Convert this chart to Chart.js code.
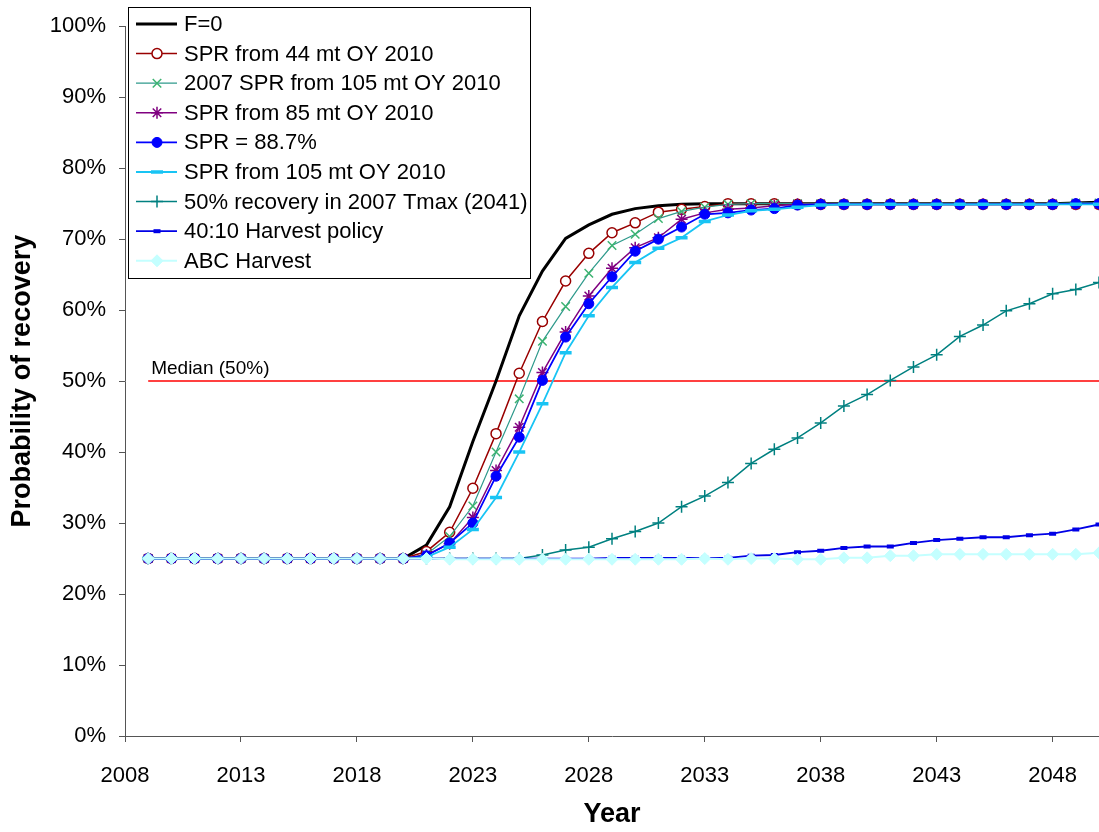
<!DOCTYPE html>
<html>
<head>
<meta charset="utf-8">
<title>Probability of recovery</title>
<script src="https://cdn.jsdelivr.net/npm/chart.js@4.4.1/dist/chart.umd.min.js"></script>
<style>
  html, body { margin: 0; padding: 0; background: #fff; }
  canvas { display: block; }
</style>
</head>
<body>
<canvas id="recovery" width="1099" height="832"></canvas>
<script>
// years on the x axis (2009 - 2050)
const years = [2009, 2010, 2011, 2012, 2013, 2014, 2015, 2016, 2017, 2018, 2019, 2020,
  2021, 2022, 2023, 2024, 2025, 2026, 2027, 2028, 2029, 2030,
  2031, 2032, 2033, 2034, 2035, 2036, 2037, 2038, 2039, 2040,
  2041, 2042, 2043, 2044, 2045, 2046, 2047, 2048, 2049, 2050]
const xTicks = [2008, 2013, 2018, 2023, 2028, 2033, 2038, 2043, 2048]
const yTicks = [0, 10, 20, 30, 40, 50, 60, 70, 80, 90, 100]

// probability of recovery, %
const fZero = [25, 25, 25, 25, 25, 25, 25, 25, 25, 25, 25, 25,
  26.9, 32.3, 41.5, 50.0, 59.2, 65.5, 70.1, 72.0, 73.5, 74.3,
  74.7, 74.9, 75.0, 75.0, 75.0, 75.0, 75.0, 75.0, 75.0, 75.0,
  75.0, 75.0, 75.0, 75.0, 75.0, 75.0, 75.0, 75.0, 75.1, 75.2]
const spr44 = [25, 25, 25, 25, 25, 25, 25, 25, 25, 25, 25, 25,
  26.0, 28.7, 34.9, 42.6, 51.1, 58.4, 64.1, 68.0, 70.9, 72.3,
  73.8, 74.2, 74.6, 75.0, 75.0, 75.0, 74.9, 74.9, 74.9, 74.9,
  74.9, 74.9, 74.9, 74.9, 74.9, 74.9, 74.9, 74.9, 74.9, 74.9]
const spr2007 = [25, 25, 25, 25, 25, 25, 25, 25, 25, 25, 25, 25,
  25.6, 28.1, 32.4, 40.0, 47.5, 55.6, 60.5, 65.2, 69.1, 70.7,
  72.9, 73.9, 74.5, 74.9, 75.0, 75.0, 75.0, 75.0, 75.0, 75.0,
  75.0, 75.0, 75.0, 75.0, 75.0, 75.0, 75.0, 75.0, 75.1, 75.1]
const spr85 = [25, 25, 25, 25, 25, 25, 25, 25, 25, 25, 25, 25,
  25.5, 27.1, 30.8, 37.4, 43.5, 51.2, 56.9, 62.0, 65.9, 68.8,
  70.2, 72.8, 73.7, 74.2, 74.4, 74.7, 74.9, 74.9, 74.9, 74.9,
  74.9, 74.9, 74.9, 74.9, 74.9, 74.9, 74.9, 74.9, 74.9, 74.9]
const spr887 = [25, 25, 25, 25, 25, 25, 25, 25, 25, 25, 25, 25,
  25.4, 27.2, 30.0, 36.6, 42.1, 50.1, 56.2, 60.9, 64.7, 68.3,
  70.0, 71.7, 73.5, 73.7, 74.1, 74.3, 74.8, 74.9, 74.9, 74.9,
  74.9, 74.9, 74.9, 74.9, 74.9, 74.9, 74.9, 74.9, 75.0, 75.0]
const spr105 = [25, 25, 25, 25, 25, 25, 25, 25, 25, 25, 25, 25,
  25.2, 26.6, 29.1, 33.6, 40.0, 46.8, 54.0, 59.2, 63.2, 66.7,
  68.7, 70.2, 72.5, 73.4, 74.0, 74.2, 74.5, 74.8, 74.9, 74.9,
  74.9, 74.9, 74.9, 74.9, 74.9, 74.9, 74.9, 74.9, 74.9, 74.9]
const tmax2041 = [25, 25, 25, 25, 25, 25, 25, 25, 25, 25, 25, 25,
  25.0, 25.0, 25.0, 25.0, 25.0, 25.5, 26.2, 26.6, 27.8, 28.8,
  30.0, 32.3, 33.8, 35.7, 38.4, 40.4, 42.0, 44.1, 46.5, 48.1,
  50.1, 52.0, 53.7, 56.3, 57.9, 59.9, 60.9, 62.3, 62.9, 63.9]
const harvest4010 = [25, 25, 25, 25, 25, 25, 25, 25, 25, 25, 25, 25,
  25.0, 25.0, 25.0, 25.0, 25.0, 25.0, 25.0, 25.0, 25.1, 25.1,
  25.1, 25.1, 25.1, 25.1, 25.4, 25.5, 25.9, 26.1, 26.5, 26.7,
  26.7, 27.2, 27.6, 27.8, 28.0, 28.0, 28.3, 28.5, 29.1, 29.8]
const abcHarvest = [25, 25, 25, 25, 25, 25, 25, 25, 25, 25, 25, 25,
  25.0, 24.9, 24.9, 24.9, 24.9, 24.9, 24.9, 24.9, 24.9, 24.9,
  24.9, 24.9, 25.0, 24.9, 25.0, 25.0, 24.9, 24.9, 25.1, 25.1,
  25.4, 25.4, 25.6, 25.6, 25.6, 25.6, 25.6, 25.6, 25.6, 25.8]
const median = [50, 50, 50, 50, 50, 50, 50, 50, 50, 50, 50, 50,
  50, 50, 50, 50, 50, 50, 50, 50, 50, 50,
  50, 50, 50, 50, 50, 50, 50, 50, 50, 50,
  50, 50, 50, 50, 50, 50, 50, 50, 50, 50]

const FONT = 'Liberation Sans, Arial, sans-serif'

function pts(arr) {
  return years.map((x, i) => ({ x: x, y: arr[i] }))
}

function series(label, arr, line, width, style, radius, fill, border, pw) {
  return {
    label: label,
    data: pts(arr),
    borderColor: line,
    borderWidth: width,
    pointStyle: style,
    pointRadius: radius,
    pointHoverRadius: radius,
    pointBackgroundColor: fill,
    pointBorderColor: border,
    pointBorderWidth: pw,
    tension: 0,
    fill: false
  }
}

const datasets = [
  series('F=0', fZero, '#000000', 3, 'circle', 0, '#000', '#000', 0),
  series('SPR from 44 mt OY 2010', spr44, '#990000', 1.5, 'circle', 5, '#ffffff', '#990000', 1.5),
  series('2007 SPR from 105 mt OY 2010', spr2007, '#2f9a8c', 1.2, 'crossRot', 6, '#3cb371', '#3cb371', 1.5),
  series('SPR from 85 mt OY 2010', spr85, '#800080', 1.5, 'star', 6, '#800080', '#800080', 1.5),
  series('SPR = 88.7%', spr887, '#0000ff', 1.8, 'circle', 5, '#0000ff', '#0000ff', 1),
  series('SPR from 105 mt OY 2010', spr105, '#18c4f4', 1.8, 'line', 6, '#18c4f4', '#18c4f4', 3.5),
  series('50% recovery in 2007 Tmax (2041)', tmax2041, '#008080', 1.5, 'cross', 6, '#008080', '#008080', 1.5),
  series('40:10 Harvest policy', harvest4010, '#0000e6', 1.8, 'line', 3.5, '#0000e6', '#0000e6', 4),
  series('ABC Harvest', abcHarvest, '#c4ffff', 2, 'rectRot', 6, '#c4ffff', '#c4ffff', 1)
]
// later series are drawn on top, like the original
datasets.forEach((d, i) => { d.order = datasets.length - i })
const medianSet = series('Median (50%)', median, '#ff0000', 1.5, 'circle', 0, '#f00', '#f00', 0)
medianSet.order = 99
datasets.push(medianSet)

// boxed legend in the upper left, line sample with marker in the middle
const legendBox = {
  id: 'legendBox',
  afterDraw(chart) {
    const ctx = chart.ctx
    const items = chart.data.datasets.filter(d => d.label !== 'Median (50%)')
    ctx.save()
    ctx.fillStyle = '#fff'
    ctx.fillRect(128.5, 7.5, 402, 271)
    ctx.strokeStyle = '#000'
    ctx.lineWidth = 1
    ctx.strokeRect(128.5, 7.5, 402, 271)
    items.forEach((d, i) => {
      const y = 24 + i * 29.6
      ctx.strokeStyle = d.borderColor
      ctx.lineWidth = d.borderWidth
      ctx.beginPath()
      ctx.moveTo(136, y)
      ctx.lineTo(177, y)
      ctx.stroke()
      if (d.pointRadius > 0) {
        ctx.fillStyle = d.pointBackgroundColor
        ctx.strokeStyle = d.pointBorderColor
        ctx.lineWidth = d.pointBorderWidth
        Chart.helpers.drawPoint(ctx, {
          pointStyle: d.pointStyle, radius: d.pointRadius,
          borderWidth: d.pointBorderWidth, rotation: 0
        }, 157, y)
      }
      ctx.fillStyle = '#000'
      ctx.font = '22px ' + FONT
      ctx.textAlign = 'left'
      ctx.textBaseline = 'middle'
      ctx.fillText(d.label, 184, y + 1)
    })
    ctx.restore()
  }
}

const medianLabel = {
  id: 'medianLabel',
  afterDatasetsDraw(chart) {
    const ctx = chart.ctx
    const x = chart.scales.x.getPixelForValue(years[0])
    const y = chart.scales.y.getPixelForValue(50)
    ctx.save()
    ctx.fillStyle = '#000'
    ctx.font = '19px ' + FONT
    ctx.textAlign = 'left'
    ctx.textBaseline = 'middle'
    ctx.fillText('Median (50%)', x + 3, y - 12)
    ctx.restore()
  }
}

const chart = new Chart(document.getElementById('recovery'), {
  type: 'line',
  data: { datasets: datasets },
  options: {
    responsive: false,
    animation: false,
    devicePixelRatio: 1,
    layout: { autoPadding: false, padding: { top: 25, right: 0, bottom: 0, left: 0 } },
    plugins: {
      legend: { display: false },
      tooltip: { enabled: false }
    },
    scales: {
      x: {
        type: 'linear',
        min: 2008,
        max: 2050,
        afterBuildTicks: s => { s.ticks = xTicks.map(v => ({ value: v })) },
        afterFit: s => { s.height = 96; s.paddingLeft = 0; s.paddingRight = 0 },
        grid: { display: true, drawOnChartArea: false, drawTicks: true, tickLength: 6, color: '#555' },
        border: { display: true, color: '#555', width: 1 },
        ticks: {
          color: '#000', padding: 21, maxRotation: 0, autoSkip: false,
          font: { family: FONT, size: 22 },
          callback: v => String(v)
        },
        title: {
          display: true, text: 'Year', color: '#000',
          font: { family: FONT, size: 27, weight: 'bold', lineHeight: 1 },
          padding: { top: 0, bottom: 3.5 }
        }
      },
      y: {
        min: 0,
        max: 100,
        afterBuildTicks: s => { s.ticks = yTicks.map(v => ({ value: v })) },
        afterFit: s => { s.width = 125 },
        grid: { display: true, drawOnChartArea: false, drawTicks: true, tickLength: 6, color: '#555' },
        border: { display: true, color: '#555', width: 1 },
        ticks: {
          color: '#000', padding: 13,
          font: { family: FONT, size: 22 },
          callback: v => v + '%'
        },
        title: {
          display: true, text: 'Probability of recovery', color: '#000',
          font: { family: FONT, size: 27, weight: 'bold', lineHeight: 1 },
          padding: { top: 9, bottom: 0 }
        }
      }
    }
  },
  plugins: [medianLabel, legendBox]
})
</script>
</body>
</html>
